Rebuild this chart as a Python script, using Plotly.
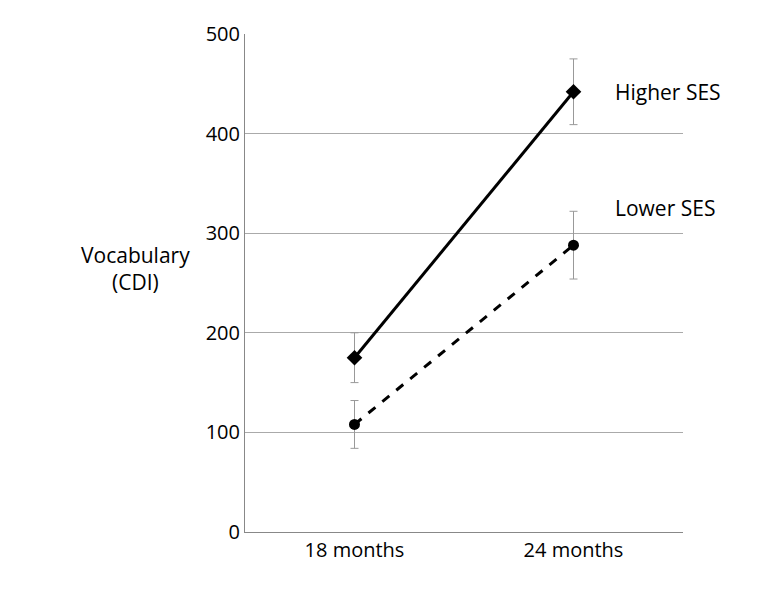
import plotly.graph_objects as go

ages = ["18 months", "24 months"]
higher = [175, 442]
higher_err = [25, 33]
lower = [108, 288]
lower_err = [24, 34]

fig = go.Figure()
fig.add_trace(go.Scatter(
    x=[0, 1], y=higher, mode="lines+markers",
    line=dict(color="black", width=3),
    marker=dict(symbol="diamond", size=12, color="black"),
    error_y=dict(type="data", array=higher_err, color="#999999", thickness=1, width=4)))
fig.add_trace(go.Scatter(
    x=[0, 1], y=lower, mode="lines+markers",
    line=dict(color="black", width=3, dash="dash"),
    marker=dict(symbol="circle", size=11, color="black"),
    error_y=dict(type="data", array=lower_err, color="#999999", thickness=1, width=4)))

fig.add_annotation(x=1.18, y=442, text="Higher SES", showarrow=False, xanchor="left",
                   font=dict(size=21))
fig.add_annotation(x=1.18, y=325, text="Lower SES", showarrow=False, xanchor="left",
                   font=dict(size=21))
fig.add_annotation(xref="paper", x=-0.38, y=265, text="Vocabulary<br>(CDI)", showarrow=False,
                   font=dict(size=21))

fig.update_layout(
    width=781, height=612, showlegend=False,
    plot_bgcolor="white", paper_bgcolor="white",
    margin=dict(l=237, r=106, t=19, b=88),
    font=dict(family="Open Sans", size=20, color="black"),
)
fig.update_xaxes(range=[-0.5, 1.5], tickvals=[0, 1], ticktext=ages, showgrid=False,
                 showline=True, linecolor="#888888", zeroline=False, ticks="")
fig.update_yaxes(range=[0, 500], dtick=100, showgrid=True, gridcolor="#aaaaaa",
                 showline=True, linecolor="#888888", zeroline=False, ticks="")
fig.update_traces(cliponaxis=False)

fig.write_html("out.html")
